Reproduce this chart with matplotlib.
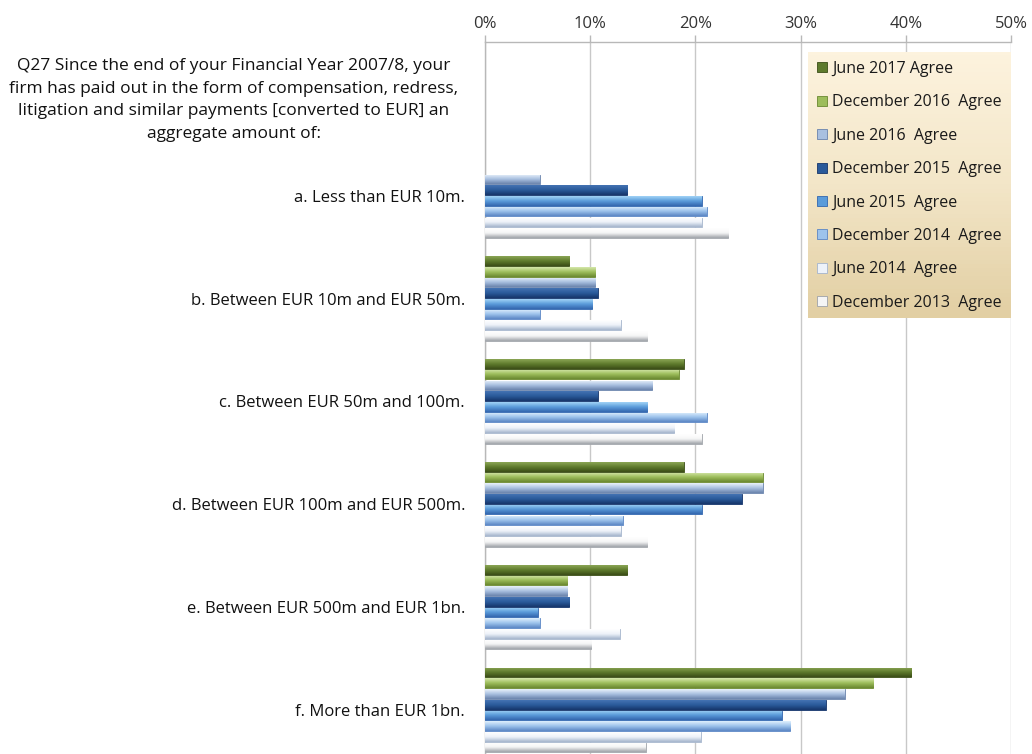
import numpy as np
import matplotlib
matplotlib.use('Agg')
import matplotlib.pyplot as plt
from matplotlib.patches import Patch
from matplotlib.colors import LinearSegmentedColormap

plt.rcParams['font.family'] = ['Open Sans', 'DejaVu Sans']

categories = ["a. Less than EUR 10m.", "b. Between EUR 10m and EUR 50m.",
              "c. Between EUR 50m and 100m.", "d. Between EUR 100m and EUR 500m.",
              "e. Between EUR 500m and EUR 1bn.", "f. More than EUR 1bn."]
series = ["June 2017 Agree", "December 2016  Agree", "June 2016  Agree",
          "December 2015  Agree", "June 2015  Agree", "December 2014  Agree",
          "June 2014  Agree", "December 2013  Agree"]

jun2017 = [0, 8.0, 18.9, 18.9, 13.5, 40.5]
dec2016 = [0, 10.5, 18.4, 26.4, 7.8, 36.9]
jun2016 = [5.2, 10.5, 15.9, 26.4, 7.8, 34.2]
dec2015 = [13.5, 10.7, 10.7, 24.4, 8.0, 32.4]
jun2015 = [20.6, 10.2, 15.4, 20.6, 5.0, 28.2]
dec2014 = [21.1, 5.2, 21.1, 13.1, 5.2, 29.0]
jun2014 = [20.6, 12.9, 18.0, 12.9, 12.8, 20.5]
dec2013 = [23.1, 15.4, 20.6, 15.4, 10.1, 15.3]
values = [jun2017, dec2016, jun2016, dec2015, jun2015, dec2014, jun2014, dec2013]

xticks = [0, 10, 20, 30, 40, 50]
xticklabels = ["0%", "10%", "20%", "30%", "40%", "50%"]

title = ("Q27 Since the end of your Financial Year 2007/8, your\n"
         "firm has paid out in the form of compensation, redress,\n"
         "litigation and similar payments [converted to EUR] an\n"
         "aggregate amount of:")

# (top, mid, bottom) gradient colours per series
grads = [
    ('#8CA656', '#5E7A2C', '#3B4D17'),
    ('#D6E8AC', '#9DBD5B', '#6A8830'),
    ('#EAF3FC', '#A9C0E0', '#6A83AC'),
    ('#4473B3', '#2A5A9A', '#16356A'),
    ('#A2D4F7', '#5A9BDA', '#3366AE'),
    ('#E0F0FD', '#9DC3EC', '#5B86C4'),
    ('#FFFFFF', '#EDF2F9', '#A4B4CC'),
    ('#FFFFFF', '#F5F5F5', '#9EA2A8'),
]

W, H = 1032, 754
fig = plt.figure(figsize=(W / 100, H / 100), dpi=100)
ax = fig.add_axes([485 / W, 0, 526 / W, 712 / H])

ncat = len(categories)
nser = len(series)
slot = 0.104
barh_ = slot * 0.9
ypos = np.arange(ncat)

for i, (vals, (ct, cm, cb)) in enumerate(zip(values, grads)):
    y = ypos + (i - (nser - 1) / 2) * slot
    bars = ax.barh(y, vals, height=barh_, color=cm, edgecolor=cb, linewidth=0.6,
                   zorder=3, label=series[i])
    cmap = LinearSegmentedColormap.from_list('g%d' % i, [ct, cm, cb])
    grad = np.linspace(0, 1, 64).reshape(-1, 1)
    for b in bars:
        w = b.get_width()
        if w <= 0:
            b.set_visible(False)
            continue
        y0 = b.get_y()
        hh = b.get_height()
        im = ax.imshow(grad, cmap=cmap, aspect='auto', origin='upper',
                       extent=(0, w, y0 + hh, y0), zorder=3.5, interpolation='bicubic')
        im.set_clip_path(b)

ax.set_xlim(0, 50)
ax.set_ylim(5.427, -1.493)
ax.set_xticks(xticks)
ax.set_xticklabels(xticklabels, fontsize=12, color='#333333')
ax.xaxis.tick_top()
ax.tick_params(axis='x', direction='out', length=5, width=1, color='#B8B8B8', pad=2.5)
ax.set_yticks(ypos)
ax.set_yticklabels(categories, fontsize=12, color='#111111')
ax.tick_params(axis='y', length=0, pad=14.4)
ax.grid(axis='x', color='#C8C8C8', linewidth=1, zorder=0)
ax.set_axisbelow(True)
for s in ['right', 'bottom']:
    ax.spines[s].set_visible(False)
for s in ['top', 'left']:
    ax.spines[s].set_color('#B8B8B8')
    ax.spines[s].set_linewidth(1)

fig.text(234 / W, 1 - 100 / H, title, ha='center', va='center', fontsize=12.5,
         color='#111111', linespacing=1.58)

# legend background with gradient
bg = fig.add_axes([808 / W, 1 - 318 / H, 203 / W, 266 / H])
bgcmap = LinearSegmentedColormap.from_list('bg', ['#FDF3DE', '#F3E6C8', '#E2CFA3'])
bg.imshow(np.linspace(0, 1, 64).reshape(-1, 1), cmap=bgcmap, aspect='auto',
          extent=(0, 1, 0, 1), origin='upper')
bg.set_axis_off()

handles = [Patch(facecolor=g[1], edgecolor=g[2], linewidth=0.6) for g in grads]
fig.legend(handles, series, loc='upper left', bbox_to_anchor=(817 / W, 1 - 61 / H),
           frameon=False, fontsize=11.5, handlelength=0.6, handleheight=0.6,
           handletextpad=0.35, labelspacing=1.09, borderpad=0, borderaxespad=0,
           labelcolor='#1a1a1a')

fig.savefig('out.png', dpi=100)
